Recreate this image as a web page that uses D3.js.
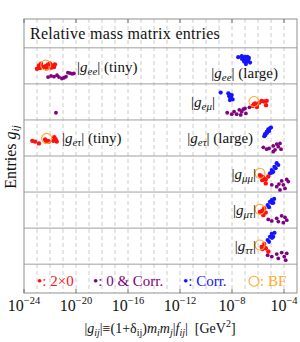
<!DOCTYPE html>
<html><head><meta charset="utf-8">
<script src="https://cdn.jsdelivr.net/npm/d3@7"></script>
<style>body{margin:0;background:#fff}svg{display:block}text{font-family:"Liberation Serif","Times New Roman",serif}</style>
</head><body><svg id="c" width="300" height="342"></svg>
<script>
// x values are log10|g_ij| (GeV^2); y values are row positions (row index + offset)
const xTickExps = [-24, -20, -16, -12, -8, -4];
const rowLines = [0.5, 1.5, 2.5, 3.5, 4.5, 5.5, 6.5];

const redPts = [
  // |g_ee| tiny
  [-23.00,1.08],[-22.85,0.99],[-22.69,0.94],[-22.77,1.06],[-22.51,1.03],[-22.31,1.00],[-22.15,0.96],[-22.01,0.93],[-21.85,0.99],[-21.69,1.03],[-21.62,0.96],[-22.24,1.07],[-21.90,1.05],
  // |g_etau| tiny
  [-23.36,3.08],[-23.15,3.10],[-22.85,3.15],[-22.38,3.04],[-22.17,3.08],[-22.08,3.10],[-21.67,2.98],[-21.56,3.04],[-21.48,3.10],[-21.74,3.08],[-22.30,3.10],
  // |g_emu|
  [-6.41,2.11],[-6.23,2.04],[-6.10,2.09],[-5.90,2.02],[-5.72,1.97],[-5.54,1.99],[-5.33,1.97],[-5.38,2.09],[-6.08,2.14],[-6.31,2.06],
  // |g_mumu|
  [-5.77,4.06],[-5.59,4.09],[-5.40,4.15],[-5.21,4.07],[-5.40,4.26],[-5.67,4.17],[-5.85,4.03],
  // |g_mutau|
  [-5.85,5.05],[-5.67,5.02],[-5.52,4.95],[-5.40,5.07],[-5.59,5.14],
  // |g_tautau|
  [-5.72,6.02],[-5.52,5.94],[-5.40,6.06],[-5.21,6.15],[-5.66,6.08]
];
const purplePts = [
  // |g_ee| tiny
  [-22.15,1.31],[-21.92,1.28],[-21.69,1.30],[-21.46,1.26],[-21.31,1.31],[-21.08,1.35],[-20.92,1.33],[-20.77,1.30],[-20.62,1.19],[-20.46,1.20],[-20.30,1.22],[-20.16,1.21],
  // isolated point
  [-21.54,2.30],
  // |g_emu|
  [-8.37,2.30],[-8.02,2.34],[-7.84,2.27],[-7.64,2.34],[-7.44,2.22],[-7.25,2.27],[-7.13,2.20],[-7.00,2.18],[-6.93,2.32],[-6.66,2.15],[-7.33,2.36],
  // |g_etau| large
  [-5.59,3.26],[-5.33,3.31],[-5.15,3.29],[-4.83,3.22],[-4.69,3.33],[-4.56,3.17],[-4.44,3.24],[-4.31,3.15],[-4.23,3.31],[-4.83,3.38],
  // |g_mumu|
  [-4.94,4.30],[-4.56,4.35],[-4.39,4.28],[-4.18,4.19],[-4.05,4.30],[-3.79,4.15],[-3.67,4.21],[-3.92,4.40],[-4.31,4.44],
  // |g_mutau|
  [-5.21,5.26],[-4.94,5.30],[-4.56,5.23],[-4.44,5.32],[-4.18,5.16],[-3.92,5.20],[-4.05,5.35],[-3.79,5.28],
  // |g_tautau|
  [-5.26,6.25],[-4.94,6.29],[-4.56,6.22],[-4.44,6.34],[-4.18,6.18],[-3.98,6.29],[-3.79,6.20],[-3.87,6.39]
];
const bluePts = [
  // |g_ee| large
  [-7.52,0.76],[-7.25,0.73],[-7.13,0.79],[-7.00,0.84],[-6.87,0.88],[-6.75,0.82],[-6.61,0.91],[-6.93,0.95],[-7.07,0.88],[-6.82,0.75],[-6.70,0.78],[-7.23,0.81],[-7.00,0.75],[-6.78,0.86],
  // |g_emu|
  [-8.87,1.74],[-8.28,1.76],[-8.21,1.84],[-8.10,1.90],[-8.02,1.81],[-8.16,1.95],[-7.95,1.93],[-8.23,1.79],[-8.08,1.86],
  // |g_etau| large
  [-5.46,2.89],[-5.33,2.83],[-5.21,2.76],[-5.08,2.73],[-5.52,2.95],[-5.31,2.86],[-5.15,2.81],[-5.00,2.71],[-5.43,2.92],
  // |g_mumu|
  [-5.08,3.98],[-4.94,3.89],[-4.74,3.80],[-4.56,3.70],[-4.83,3.94],[-4.64,3.84],[-4.44,3.75],[-4.92,3.96],
  // |g_mutau|
  [-5.26,4.86],[-5.08,4.77],[-4.94,4.72],[-4.83,4.80],[-5.15,4.92],[-4.92,4.80],[-4.76,4.69],
  // |g_tautau|
  [-5.26,5.83],[-5.08,5.74],[-4.94,5.66],[-4.83,5.74],[-5.15,5.88],[-4.92,5.77],[-4.73,5.63]
];
const bfPts = [[-22.33,0.98],[-22.26,3.01],[-6.31,1.99],[-5.85,3.98],[-5.85,4.98],[-5.85,5.97]];

const svg = d3.select("#c");
const x = d3.scaleLog().domain([1e-24, 1e-3]).range([24, 297]);
const y = d3.scaleLinear().domain([-0.3, 7.3]).range([19, 293]);
const X = e => x(Math.pow(10, e));

// dashed decade grid
const gridExps = d3.range(-23, -3);
svg.append("g").selectAll("line").data(gridExps).join("line")
  .attr("x1", d => X(d)).attr("x2", d => X(d)).attr("y1", y(-0.3)).attr("y2", y(7.3))
  .attr("stroke", "#cccccc").attr("stroke-width", 1).attr("stroke-dasharray", "4,3");
// row separators
svg.append("g").selectAll("line").data(rowLines).join("line")
  .attr("x1", X(-24)).attr("x2", X(-3)).attr("y1", d => y(d)).attr("y2", d => y(d))
  .attr("stroke", "#a0a0a0").attr("stroke-width", 1);
// frame
svg.append("rect").attr("x", X(-24)).attr("y", y(-0.3)).attr("width", X(-3) - X(-24)).attr("height", y(7.3) - y(-0.3))
  .attr("fill", "none").attr("stroke", "#909090").attr("stroke-width", 1);
// frame ticks
const tk = svg.append("g").attr("stroke", "#707070");
xTickExps.forEach(e => {
  tk.append("line").attr("x1", X(e)).attr("x2", X(e)).attr("y1", y(7.3)).attr("y2", y(7.3) - 4);
  tk.append("line").attr("x1", X(e)).attr("x2", X(e)).attr("y1", y(-0.3)).attr("y2", y(-0.3) + 4);
});

// tick labels
const tl = svg.append("g");
xTickExps.forEach(e => {
  const t = tl.append("text").attr("x", X(e)).attr("y", 311).attr("text-anchor", "middle").attr("font-size", 16).attr("fill", "#111");
  t.append("tspan").text("10");
  t.append("tspan").attr("font-size", 10.5).attr("dy", -7).text("\u2212" + (-e));
});

// points
svg.append("g").selectAll("circle").data(purplePts).join("circle")
  .attr("cx", d => X(d[0])).attr("cy", d => y(d[1])).attr("r", 1.9).attr("fill", "#800080");
svg.append("g").selectAll("circle").data(bluePts).join("circle")
  .attr("cx", d => X(d[0])).attr("cy", d => y(d[1])).attr("r", 2.1).attr("fill", "#1414ff");
svg.append("g").selectAll("circle").data(redPts).join("circle")
  .attr("cx", d => X(d[0])).attr("cy", d => y(d[1])).attr("r", 2.2).attr("fill", "#ff1010");
svg.append("g").selectAll("circle").data(bfPts).join("circle")
  .attr("cx", d => X(d[0])).attr("cy", d => y(d[1])).attr("r", 5).attr("fill", "none").attr("stroke", "#ffa928").attr("stroke-width", 1.1);

// title
svg.append("text").attr("x", 30).attr("y", 39).attr("font-size", 16).attr("letter-spacing", 0.3).attr("fill", "#111").text("Relative mass matrix entries");

// row labels
function gLabel(xpos, ypos, anchor, sub, suffix) {
  const t = svg.append("text").attr("x", xpos).attr("y", ypos).attr("text-anchor", anchor).attr("font-size", 15).attr("fill", "#111");
  t.append("tspan").text("|");
  t.append("tspan").attr("font-style", "italic").text("g");
  t.append("tspan").attr("font-style", "italic").attr("font-size", 11).attr("dy", 3).text(sub);
  t.append("tspan").attr("dy", -3).text("|" + suffix);
}
gLabel(X(-19.92), y(1) + 6, "start", "ee", " (tiny)");
gLabel(X(-4.46), y(1.2) + 5, "end", "ee", " (large)");
gLabel(X(-9.31), y(2) + 5, "end", "e\u03bc", "");
gLabel(X(-21.08), y(3) + 5, "start", "e\u03c4", " (tiny)");
gLabel(X(-6.38), y(3) + 5, "end", "e\u03c4", " (large)");
gLabel(X(-6.15), y(4) + 5, "end", "\u03bc\u03bc", "");
gLabel(X(-6.15), y(5) + 5, "end", "\u03bc\u03c4", "");
gLabel(X(-6.15), y(6) + 5, "end", "\u03c4\u03c4", "");

// legend
const ly = y(7) + 4;
svg.append("text").attr("x", 37).attr("y", ly).attr("font-size", 15).attr("fill", "#ff1010").text("\u2022: 2\u00d70");
svg.append("text").attr("x", 93).attr("y", ly).attr("font-size", 15).attr("fill", "#800080").text("\u2022: 0 & Corr.");
svg.append("text").attr("x", 183).attr("y", ly).attr("font-size", 15).attr("fill", "#1414ff").text("\u2022: Corr.");
svg.append("circle").attr("cx", 254).attr("cy", ly - 5).attr("r", 5).attr("fill", "none").attr("stroke", "#ffa928").attr("stroke-width", 1.1);
svg.append("text").attr("x", 260).attr("y", ly).attr("font-size", 15).attr("fill", "#ffa928").text(": BF");

// y label
const yl = svg.append("text").attr("transform", "translate(16,157) rotate(-90)").attr("text-anchor", "middle").attr("font-size", 16).attr("fill", "#111");
yl.append("tspan").text("Entries ");
yl.append("tspan").attr("font-style", "italic").text("g");
yl.append("tspan").attr("font-style", "italic").attr("font-size", 11).attr("dy", 3).text("ij");

// x label
const xl = svg.append("text").attr("x", 160).attr("y", 333).attr("text-anchor", "middle").attr("font-size", 14).attr("fill", "#111").attr("xml:space", "preserve");
const parts = [
  ["|", 0, true], ["g", 0, true], ["ij", 1, true], ["|\u2261(1+\u03b4", -1, false], ["ij", 1, false],
  [")", -1, false], ["m", 0, true], ["i", 1, true], ["m", -1, true], ["j", 1, true],
  ["|", -1, false], ["f", 0, true], ["ij", 1, true], ["|  [GeV", -1, false], ["2", 2, false], ["]", -2, false]
];
parts.forEach(p => {
  const s = xl.append("tspan").text(p[0]);
  if (p[2] && p[0] !== "|") s.attr("font-style", "italic");
  if (p[1] === 1) s.attr("dy", 3).attr("font-size", 10);
  if (p[1] === -1) s.attr("dy", -3);
  if (p[1] === 2) s.attr("dy", -6).attr("font-size", 10);
  if (p[1] === -2) s.attr("dy", 6);
});
</script></body></html>
